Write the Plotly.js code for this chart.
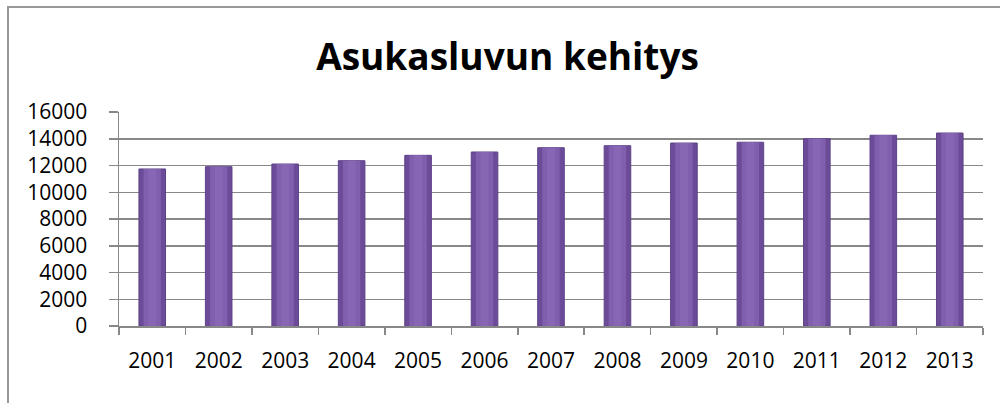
<!DOCTYPE html>
<html>
<head>
<meta charset="utf-8">
<script src="https://cdn.plot.ly/plotly-3.0.1.min.js"></script>
<style>
  html, body { margin: 0; padding: 0; background: #fff; overflow: hidden; }
  #chart { width: 1000px; height: 403px; }
  #frame { position: absolute; left: 7px; top: 6px; width: 1010px; height: 410px;
           border: 2px solid #999; pointer-events: none; box-sizing: border-box; }
</style>
</head>
<body>
<div id="chart"></div>
<div id="frame"></div>
<script>
const years = ['2001','2002','2003','2004','2005','2006','2007','2008','2009','2010','2011','2012','2013'];
const population = [11740, 11910, 12110, 12360, 12760, 13010, 13330, 13480, 13680, 13740, 14000, 14260, 14430];
const yTicks = [0, 2000, 4000, 6000, 8000, 10000, 12000, 14000, 16000];
const titleText = 'Asukasluvun kehitys';

const fontFam = '"Open Sans", "Liberation Sans", sans-serif';

const traces = [
  { type: 'bar', x: years, y: population, width: 0.4,
    marker: { color: '#6c4c99', line: { color: '#5e4288', width: 1 } },
    hoverinfo: 'x+y', showlegend: false },
  { type: 'bar', x: years, y: population, width: 0.26,
    marker: { color: '#8060ae', line: { width: 0 } },
    hoverinfo: 'skip', showlegend: false },
  { type: 'bar', x: years, y: population, width: 0.12,
    marker: { color: '#8766b4', line: { width: 0 } },
    hoverinfo: 'skip', showlegend: false }
];

const layout = {
  width: 1000, height: 403,
  margin: { l: 119, r: 17, t: 112, b: 77 },
  paper_bgcolor: '#ffffff', plot_bgcolor: '#ffffff',
  barmode: 'overlay',
  title: { text: '<b>' + titleText + '</b>', font: { family: fontFam, size: 37, color: '#000' },
           x: 0.5075, xref: 'container', xanchor: 'center',
           y: 0.858, yref: 'container', yanchor: 'middle' },
  xaxis: {
    type: 'category', tickvals: years, ticktext: years,
    tickson: 'boundaries', ticks: 'outside', ticklen: 7, tickwidth: 1.5, tickcolor: '#888',
    showline: true, linecolor: '#888', linewidth: 1.5,
    showgrid: false, zeroline: false,
    tickfont: { family: fontFam, size: 21, color: '#000' },
    ticklabelstandoff: 15, fixedrange: true
  },
  yaxis: {
    range: [0, 16000], tickvals: yTicks, ticktext: yTicks.map(String),
    ticks: 'outside', ticklen: 9, tickwidth: 1.5, tickcolor: '#888',
    showline: true, linecolor: '#888', linewidth: 1.5,
    showgrid: true, gridcolor: '#888', gridwidth: 1.5, zeroline: false,
    tickfont: { family: fontFam, size: 21, color: '#000' },
    ticklabelstandoff: 17, fixedrange: true
  },
  bargap: 0.6
};

Plotly.newPlot('chart', traces, layout, { displayModeBar: false, staticPlot: true });
</script>
</body>
</html>
